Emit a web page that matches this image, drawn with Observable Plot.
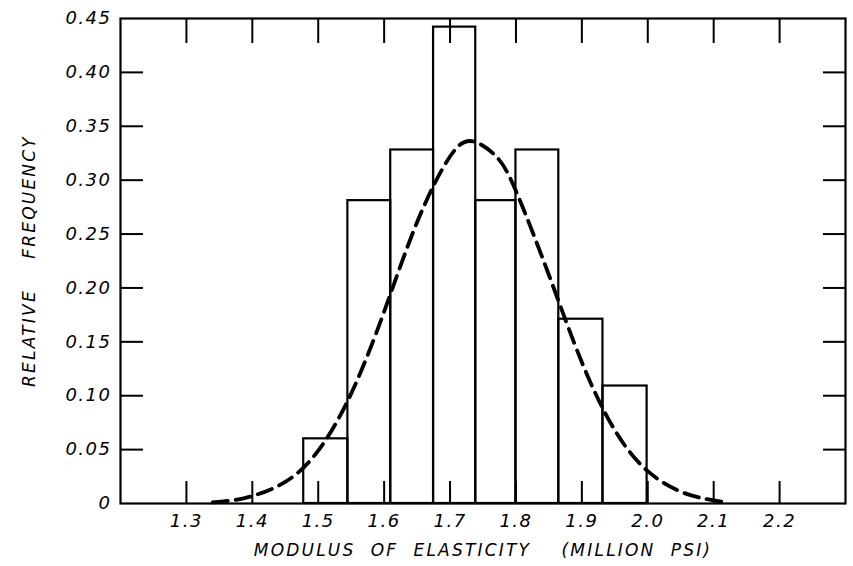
<!DOCTYPE html>
<html>
<head>
<meta charset="utf-8">
<script src="https://cdn.jsdelivr.net/npm/d3@7"></script>
<script src="https://cdn.jsdelivr.net/npm/@observablehq/plot@0.6"></script>
<style>
  html, body { margin: 0; padding: 0; background: #fff; }
  svg { font-style: italic; }
</style>
</head>
<body>
<div id="chart"></div>
<script>
// Histogram bins (modulus of elasticity, million psi) and relative frequencies
const binStart = [1.478, 1.545, 1.610, 1.675, 1.739, 1.800, 1.865, 1.932];
const binEnd   = [1.545, 1.610, 1.675, 1.739, 1.800, 1.865, 1.932, 1.999];
const relFreq  = [0.060, 0.281, 0.328, 0.442, 0.281, 0.328, 0.171, 0.109];

// Fitted curve
const curveX = [1.34, 1.37, 1.40, 1.45, 1.50, 1.55, 1.60, 1.65, 1.70, 1.735, 1.77, 1.80, 1.85, 1.90, 1.95, 2.00, 2.05, 2.09, 2.12];
const curveY = [0.001, 0.003, 0.007, 0.020, 0.049, 0.102, 0.178, 0.261, 0.322, 0.336, 0.322, 0.290, 0.212, 0.131, 0.068, 0.030, 0.011, 0.004, 0.001];

// Axis ticks
const xTicks = [1.3, 1.4, 1.5, 1.6, 1.7, 1.8, 1.9, 2.0, 2.1, 2.2];
const xTickLabels = ["1.3", "1.4", "1.5", "1.6", "1.7", "1.8", "1.9", "2.0", "2.1", "2.2"];
const yTicks = [0, 0.05, 0.10, 0.15, 0.20, 0.25, 0.30, 0.35, 0.40, 0.45];
const yTickLabels = ["0", "0.05", "0.10", "0.15", "0.20", "0.25", "0.30", "0.35", "0.40", "0.45"];

const bins = binStart.map((s, i) => ({x1: s, x2: binEnd[i], y: relFreq[i]}));
const curve = curveX.map((x, i) => ({x, y: curveY[i]}));

const W = 853, H = 566;
const mTop = 18, mBottom = 63, mLeft = 120, mRight = 8;
const innerH = H - mTop - mBottom;
const innerW = W - mLeft - mRight;
const font = "'DejaVu Sans', sans-serif";

const chart = Plot.plot({
  width: W,
  height: H,
  marginTop: mTop,
  marginBottom: mBottom,
  marginLeft: mLeft,
  marginRight: mRight,
  style: {fontFamily: font, color: "#000", background: "#fff", fontStyle: "italic"},
  x: {domain: [1.2, 2.3]},
  y: {domain: [0, 0.45]},
  marks: [
    Plot.rectY(bins, {x1: "x1", x2: "x2", y: "y", fill: "none", stroke: "#000", strokeWidth: 2.2}),
    Plot.line(curve, {x: "x", y: "y", stroke: "#000", strokeWidth: 3.8, strokeDasharray: "15,8", curve: "natural"}),
    // inward ticks
    Plot.tickX(xTicks, {x: d => d, insetTop: innerH - 22, stroke: "#000", strokeWidth: 2}),
    Plot.tickX(xTicks, {x: d => d, insetBottom: innerH - 25, stroke: "#000", strokeWidth: 2}),
    Plot.tickY(yTicks.slice(1, -1), {y: d => d, insetRight: innerW - 23, stroke: "#000", strokeWidth: 2}),
    Plot.tickY(yTicks.slice(1, -1), {y: d => d, insetLeft: innerW - 22, stroke: "#000", strokeWidth: 2}),
    Plot.axisX({
      ticks: xTicks, tickSize: 0, tickPadding: 11,
      tickFormat: d => xTickLabels[xTicks.indexOf(d)],
      label: "MODULUS  OF  ELASTICITY    (MILLION  PSI)",
      labelAnchor: "center", labelOffset: 52, labelArrow: "none"
    }),
    Plot.axisY({
      ticks: yTicks, tickSize: 0, tickPadding: 9,
      tickFormat: d => yTickLabels[yTicks.indexOf(d)],
      label: "RELATIVE    FREQUENCY",
      labelAnchor: "center", labelOffset: 98, labelArrow: "none"
    }),
    Plot.frame({stroke: "#000", strokeWidth: 2.2})
  ]
});

d3.select(chart).selectAll("[aria-label='x-axis label'] text, [aria-label='y-axis label'] text, [aria-label='x-axis label'], [aria-label='y-axis label']")
  .style("font-size", "17px").style("letter-spacing", "2.2px");
d3.select(chart).selectAll("[aria-label='x-axis tick label'], [aria-label='y-axis tick label'], [aria-label='x-axis tick label'] text, [aria-label='y-axis tick label'] text")
  .style("font-size", "18px").style("letter-spacing", "1.5px");

document.getElementById("chart").appendChild(chart);
</script>
</body>
</html>
